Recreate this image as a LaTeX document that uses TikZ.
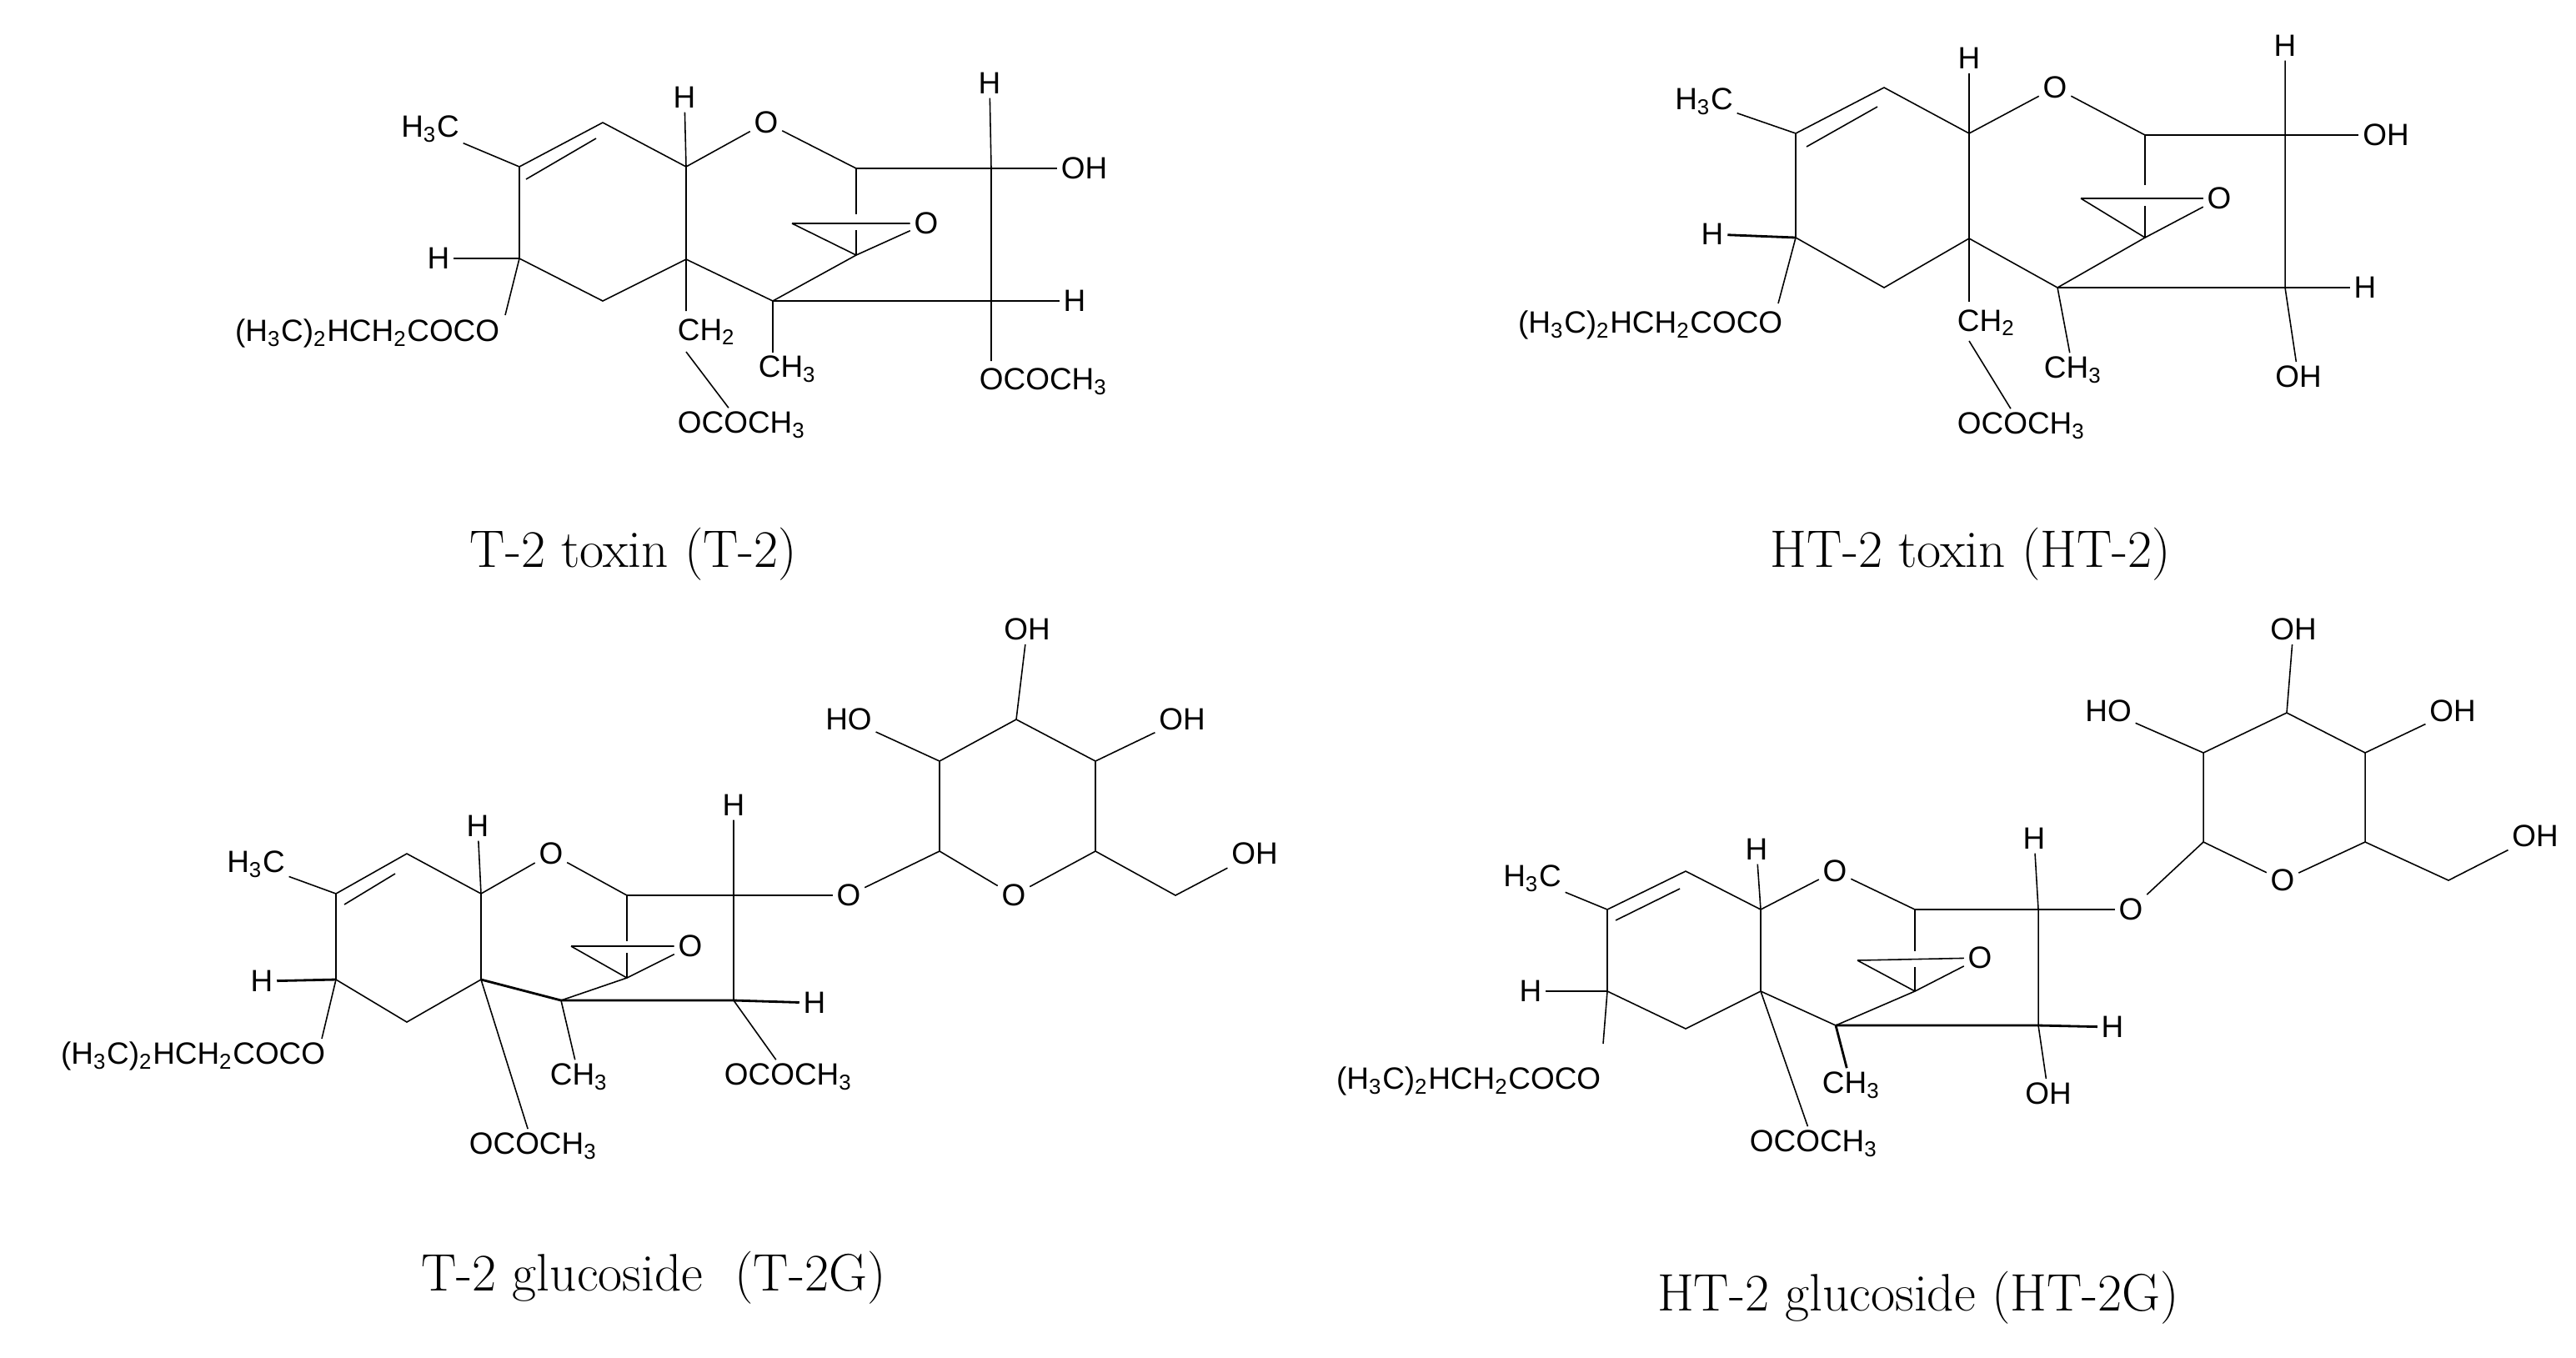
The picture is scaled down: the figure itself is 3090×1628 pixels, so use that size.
\documentclass[tikz,border=0pt]{standalone}
\usepackage{fontspec}
\newfontfamily\lab{Liberation Sans}
\begin{document}
\begin{tikzpicture}[x=0.1mm,y=-0.1mm,
  bd/.style={line width=0.45pt},
  bk/.style={line width=0.8pt},
  atm/.style={font=\lab\fontsize{10.5}{12}\selectfont, inner sep=1.2pt},
  captext/.style={font=\fontsize{18}{21}\selectfont, inner sep=0pt}]
\useasboundingbox (0,0) rectangle (3090,1628);
\newcommand{\sub}[1]{\textsubscript{#1}}
% ===== T-2 =====
\coordinate (A1) at (623,200); \coordinate (A2) at (723,147); \coordinate (A3) at (823,200);
\coordinate (A4) at (1027,202); \coordinate (A5) at (1189,202); \coordinate (Aep) at (950,268);
\coordinate (Asp) at (1027,306); \coordinate (A6) at (927,361); \coordinate (A7) at (823,311);
\coordinate (A8) at (623,310); \coordinate (A9) at (723,361); \coordinate (A10) at (1189,361);
\node[atm] (AO) at (919,147) {O};
\node[atm] (AOe) at (1111,268) {O};
\node[atm] (AH5) at (1187,100) {H};
\node[atm,anchor=west] (AOH) at (1268,202) {OH};
\node[atm] (AH10) at (1289,361) {H};
\node[atm] (AH8) at (526,310) {H};
\node[atm] (AH3) at (821,117) {H};
\node[atm] (AMe) at (516,155) {H\sub{3}C};
\node[atm,anchor=east] (AR) at (604,400) {(H\sub{3}C)\sub{2}HCH\sub{2}COCO};
\node[atm,anchor=west] (ACH2) at (808,398) {CH\sub{2}};
\node[atm,anchor=west] (AAc1) at (808,510) {OCOCH\sub{3}};
\node[atm,anchor=west] (ACH3) at (905,443) {CH\sub{3}};
\node[atm,anchor=west] (AAc2) at (1170,458) {OCOCH\sub{3}};
\draw[bd] (AMe) -- (A1) -- (A2) -- (A3) -- (AO) -- (A4);
\draw[bd] (631,215) -- (715,166);
\draw[bd] (A1) -- (A8) -- (A9) -- (A7) -- (A6) -- (Asp);
\draw[bd] (AH3) -- (A3) -- (A7) -- (823,373);
\draw[bd] (823,422) -- (AAc1);
\draw[bd] (A4) -- (1027,257); \draw[bd] (1027,276) -- (Asp);
\draw[bd] (Aep) -- (AOe) -- (Asp) -- (Aep);
\draw[bd] (A4) -- (A5); \draw[bk] (A5) -- (AOH);
\draw[bd] (AH5) -- (A5) -- (A10) -- (1189,433);
\draw[bk] (A6) -- (A10) -- (AH10);
\draw[bd] (A6) -- (927,423);
\draw[bk] (AH8) -- (A8); \draw[bd] (A8) -- (606,378);
% ===== HT-2 =====
\coordinate (B1) at (2154,160); \coordinate (B2) at (2260,105); \coordinate (B3) at (2362,160);
\coordinate (B4) at (2573,162); \coordinate (B5) at (2741,162); \coordinate (Bep) at (2496,238);
\coordinate (Bsp) at (2573,285); \coordinate (B6) at (2468,345); \coordinate (B7) at (2362,286);
\coordinate (B8) at (2154,285); \coordinate (B9) at (2260,345); \coordinate (B10) at (2741,345);
\node[atm] (BO) at (2465,105) {O};
\node[atm] (BOe) at (2662,238) {O};
\node[atm] (BH5) at (2741,55) {H};
\node[atm] (BOH) at (2862,162) {OH};
\node[atm] (BH10) at (2837,345) {H};
\node[atm] (BH8) at (2054,281) {H};
\node[atm] (BH3) at (2362,70) {H};
\node[atm] (BMe) at (2044,122) {H\sub{3}C};
\node[atm,anchor=east] (BR) at (2143,390) {(H\sub{3}C)\sub{2}HCH\sub{2}COCO};
\node[atm,anchor=west] (BCH2) at (2343,387) {CH\sub{2}};
\node[atm,anchor=west] (BAc1) at (2343,511) {OCOCH\sub{3}};
\node[atm,anchor=west] (BCH3) at (2447,444) {CH\sub{3}};
\node[atm] (BOH2) at (2757,452) {OH};
\draw[bd] (BMe) -- (B1) -- (B2) -- (B3) -- (BO) -- (B4);
\draw[bd] (2167,176) -- (2252,128);
\draw[bd] (B1) -- (B8) -- (B9) -- (B7) -- (B6) -- (Bsp);
\draw[bd] (BH3) -- (B3) -- (B7) -- (2362,362);
\draw[bd] (2362,409) -- (BAc1);
\draw[bd] (B4) -- (2573,222); \draw[bd] (2573,247) -- (Bsp);
\draw[bd] (Bep) -- (BOe) -- (Bsp) -- (Bep);
\draw[bd] (B4) -- (B5); \draw[bk] (B5) -- (BOH);
\draw[bd] (BH5) -- (B5) -- (B10) -- (BOH2);
\draw[bk] (B6) -- (B10) -- (BH10);
\draw[bd] (B6) -- (BCH3);
\draw[bk] (BH8) -- (B8); \draw[bd] (B8) -- (2133,364);
% ===== T-2G =====
\coordinate (C1) at (403,1072); \coordinate (C2) at (488,1024); \coordinate (C3) at (577,1072);
\coordinate (C4) at (752,1074); \coordinate (C5) at (880,1074); \coordinate (Cep) at (685,1135);
\coordinate (Csp) at (752,1173); \coordinate (C6) at (673,1200); \coordinate (C7) at (577,1175);
\coordinate (C8) at (403,1175); \coordinate (C9) at (488,1226); \coordinate (C10) at (880,1200);
\coordinate (S1) at (1127,1021); \coordinate (S2) at (1127,913); \coordinate (S3) at (1219,863);
\coordinate (S4) at (1314,913); \coordinate (S5) at (1314,1021); \coordinate (S6) at (1410,1074);
\node[atm] (CO) at (661,1024) {O};
\node[atm] (COe) at (828,1135) {O};
\node[atm] (CH5) at (880,966) {H};
\node[atm] (COg) at (1018,1074) {O};
\node[atm] (SO) at (1216,1074) {O};
\node[atm] (SOH6) at (1505,1024) {OH};
\node[atm] (SOH4) at (1418,863) {OH};
\node[atm] (SOH3) at (1232,755) {OH};
\node[atm] (SHO2) at (1018,863) {HO};
\node[atm] (CH10) at (977,1203) {H};
\node[atm] (CH8) at (314,1177) {H};
\node[atm] (CH3a) at (573,991) {H};
\node[atm] (CMe) at (307,1037) {H\sub{3}C};
\node[atm,anchor=east] (CR) at (395,1267) {(H\sub{3}C)\sub{2}HCH\sub{2}COCO};
\node[atm,anchor=west] (CCH3) at (655,1292) {CH\sub{3}};
\node[atm,anchor=west] (CAc2) at (864,1292) {OCOCH\sub{3}};
\node[atm,anchor=west] (CAc1) at (558,1375) {OCOCH\sub{3}};
\draw[bd] (CMe) -- (C1) -- (C2) -- (C3) -- (CO) -- (C4);
\draw[bd] (413,1085) -- (474,1048);
\draw[bd] (C1) -- (C8) -- (C9) -- (C7);
\draw[bk] (C7) -- (C6); \draw[bd] (C6) -- (Csp);
\draw[bd] (CH3a) -- (C3) -- (C7) -- (CAc1);
\draw[bd] (C4) -- (752,1129); \draw[bd] (752,1143) -- (Csp);
\draw[bd] (Cep) -- (COe) -- (Csp) -- (Cep);
\draw[bk] (C4) -- (C5) -- (COg);
\draw[bd] (CH5) -- (C5) -- (C10) -- (CAc2);
\draw[bk] (C6) -- (C10) -- (CH10);
\draw[bd] (C6) -- (CCH3);
\draw[bk] (CH8) -- (C8); \draw[bd] (C8) -- (386,1246);
\draw[bd] (COg) -- (S1) -- (SO) -- (S5) -- (S6) -- (SOH6);
\draw[bd] (S1) -- (S2) -- (S3) -- (S4) -- (S5);
\draw[bd] (S2) -- (SHO2); \draw[bd] (S4) -- (SOH4); \draw[bd] (S3) -- (SOH3);
% ===== HT-2G =====
\coordinate (D1) at (1928,1091); \coordinate (D2) at (2022,1045); \coordinate (D3) at (2112,1091);
\coordinate (D4) at (2297,1091); \coordinate (D5) at (2445,1091); \coordinate (Dep) at (2228,1152);
\coordinate (Dsp) at (2297,1189); \coordinate (D6) at (2202,1230); \coordinate (D7) at (2112,1189);
\coordinate (D8) at (1928,1189); \coordinate (D9) at (2022,1234); \coordinate (D10) at (2445,1230);
\coordinate (T1) at (2643,1010); \coordinate (T2) at (2643,903); \coordinate (T3) at (2743,855);
\coordinate (T4) at (2837,903); \coordinate (T5) at (2837,1010); \coordinate (T6) at (2937,1056);
\node[atm] (DO) at (2201,1045) {O};
\node[atm] (DOe) at (2375,1149) {O};
\node[atm] (DH5) at (2440,1006) {H};
\node[atm] (DOg) at (2556,1091) {O};
\node[atm] (TO) at (2738,1056) {O};
\node[atm] (TOH6) at (3041,1003) {OH};
\node[atm] (TOH4) at (2942,853) {OH};
\node[atm] (TOH3) at (2751,755) {OH};
\node[atm] (THO2) at (2529,853) {HO};
\node[atm] (DH10) at (2534,1232) {H};
\node[atm] (DH8) at (1836,1189) {H};
\node[atm] (DH3) at (2107,1019) {H};
\node[atm] (DMe) at (1838,1054) {H\sub{3}C};
\node[atm,anchor=east] (DR) at (1925,1297) {(H\sub{3}C)\sub{2}HCH\sub{2}COCO};
\node[atm,anchor=west] (DCH3) at (2181,1302) {CH\sub{3}};
\node[atm] (DOH) at (2457,1312) {OH};
\node[atm,anchor=west] (DAc1) at (2094,1372) {OCOCH\sub{3}};
\draw[bd] (DMe) -- (D1) -- (D2) -- (D3) -- (DO) -- (D4);
\draw[bd] (1938,1104) -- (2015,1066);
\draw[bd] (D1) -- (D8) -- (D9) -- (D7) -- (D6) -- (Dsp);
\draw[bd] (DH3) -- (D3) -- (D7) -- (DAc1);
\draw[bd] (D4) -- (2297,1141); \draw[bd] (2297,1160) -- (Dsp);
\draw[bd] (Dep) -- (DOe) -- (Dsp) -- (Dep);
\draw[bk] (D4) -- (D5); \draw[bd] (D5) -- (DOg);
\draw[bd] (DH5) -- (D5) -- (D10) -- (DOH);
\draw[bk] (D6) -- (D10) -- (DH10);
\draw[bk] (D6) -- (DCH3);
\draw[bk] (DH8) -- (D8); \draw[bd] (D8) -- (1923,1252);
\draw[bd] (DOg) -- (T1) -- (TO) -- (T5) -- (T6) -- (TOH6);
\draw[bd] (T1) -- (T2) -- (T3) -- (T4) -- (T5);
\draw[bd] (T2) -- (THO2); \draw[bd] (T4) -- (TOH4); \draw[bd] (T3) -- (TOH3);
% ===== captions =====
\node[captext] (capA) at (760,665) {T-2 toxin (T-2)};
\node[captext] (capB) at (2364,665) {HT-2 toxin (HT-2)};
\node[captext] (capC) at (784,1533) {T-2 glucoside\ \ (T-2G)};
\node[captext] (capD) at (2301,1557) {HT-2 glucoside (HT-2G)};
\end{tikzpicture}
\end{document}
